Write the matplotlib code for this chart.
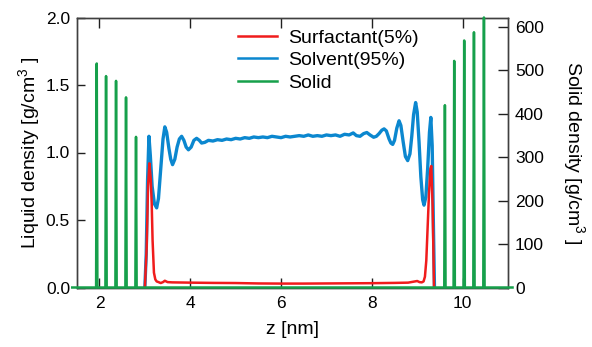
import numpy as np
import matplotlib
matplotlib.use("Agg")
import matplotlib.pyplot as plt
from matplotlib.lines import Line2D

plt.rcParams['font.family'] = ['Liberation Sans', 'DejaVu Sans']
plt.rcParams['mathtext.fontset'] = 'custom'
plt.rcParams['mathtext.rm'] = 'Liberation Sans'
plt.rcParams['mathtext.it'] = 'Liberation Sans:italic'

# ---------------- data ----------------
solvent_z = [3.00, 3.03, 3.06, 3.09, 3.12, 3.16, 3.21, 3.26, 3.30, 3.35, 3.40, 3.44,
             3.48, 3.53, 3.57, 3.61, 3.66, 3.71, 3.76, 3.81, 3.86, 3.91, 3.96, 4.02,
             4.08, 4.14, 4.20, 4.25, 4.32, 4.40, 4.50, 4.60, 4.70, 4.80, 4.90, 5.00,
             5.10, 5.20, 5.30, 5.40, 5.50, 5.60, 5.70, 5.80, 5.90, 6.00, 6.10, 6.20,
             6.30, 6.40, 6.50, 6.60, 6.70, 6.80, 6.90, 7.00, 7.10, 7.20, 7.30, 7.40,
             7.50, 7.59, 7.66, 7.74, 7.82, 7.89, 7.96, 8.04, 8.10, 8.16, 8.22, 8.27,
             8.32, 8.38, 8.42, 8.46, 8.50, 8.55, 8.60, 8.64, 8.69, 8.74, 8.79, 8.84,
             8.88, 8.92, 8.965, 9.00, 9.04, 9.08, 9.12, 9.15, 9.19, 9.23, 9.27, 9.30,
             9.33, 9.355, 9.38]
solvent_rho = [0.00, 0.25, 0.80, 1.12, 0.98, 0.75, 0.62, 0.59, 0.66, 0.88, 1.10, 1.19,
               1.15, 1.03, 0.95, 0.91, 0.95, 1.04, 1.10, 1.12, 1.09, 1.04, 1.02, 1.04,
               1.09, 1.105, 1.09, 1.07, 1.075, 1.09, 1.085, 1.095, 1.09, 1.10, 1.095, 1.105,
               1.10, 1.11, 1.105, 1.115, 1.11, 1.115, 1.11, 1.12, 1.115, 1.11, 1.12, 1.115,
               1.12, 1.125, 1.12, 1.13, 1.12, 1.125, 1.12, 1.13, 1.125, 1.13, 1.12, 1.135,
               1.13, 1.145, 1.125, 1.12, 1.14, 1.148, 1.13, 1.113, 1.12, 1.14, 1.165, 1.175,
               1.16, 1.10, 1.07, 1.06, 1.09, 1.18, 1.235, 1.20, 1.08, 0.97, 0.94, 0.99,
               1.12, 1.28, 1.37, 1.30, 1.08, 0.82, 0.65, 0.61, 0.67, 0.88, 1.15, 1.26,
               1.05, 0.50, 0.00]

surf_z = [3.00, 3.04, 3.07, 3.10, 3.13, 3.15, 3.17, 3.20, 3.23, 3.26, 3.30, 3.35,
          3.40, 3.44, 3.50, 3.60, 3.80, 4.00, 4.50, 5.00, 5.50, 6.00, 6.50, 7.00,
          7.50, 8.00, 8.50, 8.80, 8.95, 9.00, 9.05, 9.10, 9.14, 9.17, 9.20, 9.23,
          9.26, 9.29, 9.31, 9.34, 9.36, 9.37]
surf_rho = [0.00, 0.30, 0.75, 0.92, 0.80, 0.63, 0.35, 0.11, 0.06, 0.045, 0.040, 0.033,
            0.040, 0.050, 0.040, 0.038, 0.037, 0.036, 0.034, 0.033, 0.030, 0.029, 0.029, 0.030,
            0.031, 0.032, 0.034, 0.036, 0.045, 0.048, 0.040, 0.038, 0.045, 0.080, 0.20, 0.45,
            0.70, 0.88, 0.90, 0.60, 0.20, 0.00]

solid_z = [1.94, 2.145, 2.365, 2.585, 2.805, 9.61, 9.815, 10.035, 10.25, 10.47]
solid_peak = [516, 487, 476, 438, 347, 420, 522, 569, 588, 622]

x_ticks = [2, 4, 6, 8, 10]
yl_ticks = [0.0, 0.5, 1.0, 1.5, 2.0]
yr_ticks = [0, 100, 200, 300, 400, 500, 600]

c_red = '#f01c1c'
c_blue = '#0b87cf'
c_green = '#16a04b'
c_frame = '#404040'

# build the solid profile as thin spikes on a zero baseline
half_w = 0.014
sz = [1.40]
sr = [0.0]
for z, h in zip(solid_z, solid_peak):
    sz += [z - half_w, z, z + half_w]
    sr += [0.0, h, 0.0]
sz.append(11.1)
sr.append(0.0)

# ---------------- figure ----------------
fig = plt.figure(figsize=(5.92, 3.47), dpi=100)
ax = fig.add_axes([77/592, 1 - 287.5/347, 431/592, 270/347])
ax2 = ax.twinx()

ax.plot(solvent_z, solvent_rho, color=c_blue, lw=2.4, solid_joinstyle='round', zorder=3)
ax.plot(surf_z, surf_rho, color=c_red, lw=1.8, solid_joinstyle='round', zorder=4)
ax2.plot(sz, sr, color=c_green, lw=1.8, clip_on=False, zorder=3)

ax.set_xlim(1.505, 11.0)
ax.set_ylim(0, 2.0)
ax2.set_ylim(0, 622)

ax.set_xticks(x_ticks)
ax.set_yticks(yl_ticks)
ax.set_yticklabels([f'{v:.1f}' for v in yl_ticks])
ax2.set_yticks(yr_ticks)

fs_tick = 12.5
fs_lab = 14
ax.tick_params(axis='x', direction='in', top=True, length=7, width=1, color='#202020',
               labelsize=fs_tick, pad=6)
ax.tick_params(axis='y', direction='in', length=6, width=1, color='#202020',
               labelsize=fs_tick, pad=5)
ax2.tick_params(axis='y', direction='in', length=7, width=1, color='#202020',
                labelsize=fs_tick, pad=5)

for a in (ax, ax2):
    for s in a.spines.values():
        s.set_color(c_frame)
        s.set_linewidth(1.0)

ax.set_xlabel('z [nm]', fontsize=fs_lab, labelpad=7)
ax.set_ylabel('Liquid density [g/cm$^{3}$ ]', fontsize=fs_lab, labelpad=3)
ax2.set_ylabel('Solid density [g/cm$^{3}$ ]', fontsize=fs_lab, rotation=270, labelpad=31)

handles = [Line2D([], [], color=c_red, lw=1.8),
           Line2D([], [], color=c_blue, lw=1.8),
           Line2D([], [], color=c_green, lw=1.8)]
labels = ['Surfactant(5%)', 'Solvent(95%)', 'Solid']
fig.legend(handles, labels, loc='upper left',
           bbox_to_anchor=(238/592, 1 - 29/347), bbox_transform=fig.transFigure,
           frameon=False, fontsize=fs_lab, handlelength=2.0, handletextpad=0.6,
           labelspacing=0.26, borderpad=0.0, borderaxespad=0.0)

fig.savefig('out.png', dpi=100)
